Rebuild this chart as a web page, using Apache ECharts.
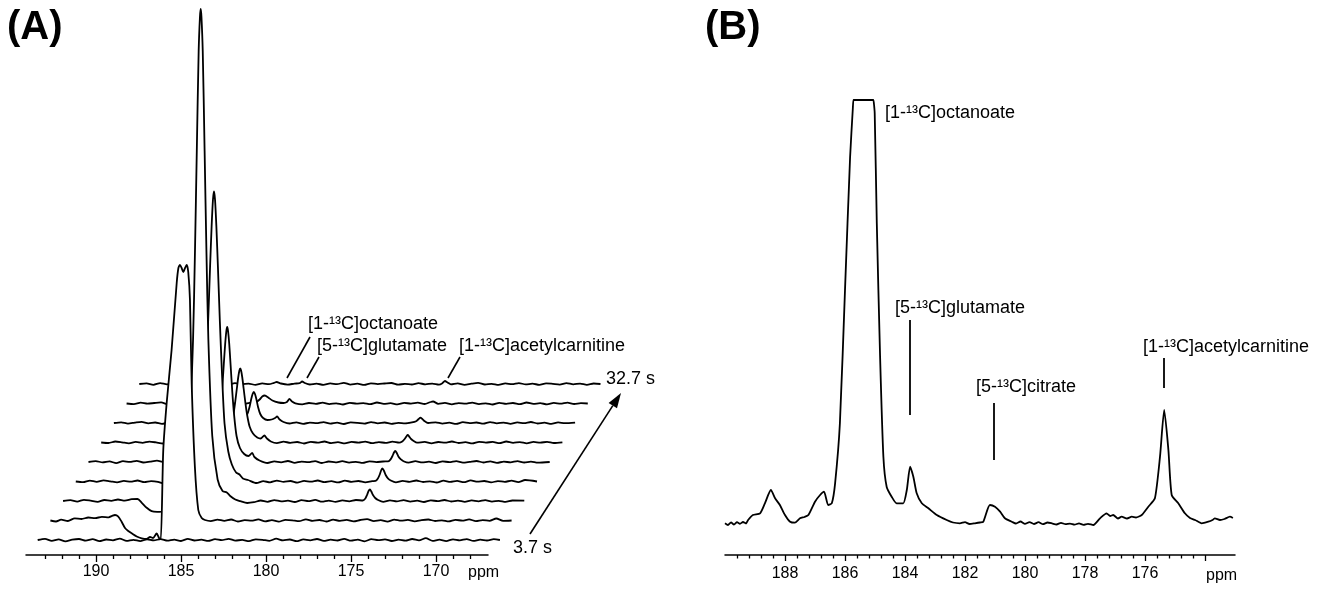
<!DOCTYPE html>
<html>
<head>
<meta charset="utf-8">
<script src="https://cdn.jsdelivr.net/npm/echarts@6/dist/echarts.min.js"></script>
<style>
  html, body { margin: 0; padding: 0; background: #fff; }
  #chart { width: 1331px; height: 592px; }
</style>
</head>
<body>
<div id="chart"></div>
<script>
// (A) stacked 13C spectra, front trace (3.7 s) first, back trace (32.7 s) last; [ppm, intensity]
const scanA0 = [[193.43,0],[193.0,1.2],[192.6,-0.8],[192.2,0.6],[191.8,-1.4],[191.4,0.3],[191.0,1],[190.6,-0.6],[190.2,0.8],[189.8,-1.2],[189.4,0.5],[189.0,-0.3],[188.6,1.4],[188.2,-0.9],[187.8,0.2],[187.4,-1.1],[187.0,0.6],[186.6,-0.4],[186.2,0.9],[185.8,-0.7],[185.4,0.4],[185.0,-1],[184.6,1.1],[184.2,-0.5],[183.8,0.3],[183.4,-0.9],[183.0,0.8],[182.6,-0.2],[182.2,1.2],[181.8,-0.6],[181.4,0.1],[181.0,-1.1],[180.6,0.7],[180.2,0.2],[179.8,-0.8],[179.4,1.3],[179.0,-0.4],[178.6,0.5],[178.2,-1.2],[177.8,0.6],[177.4,-0.3],[177.0,1],[176.6,-0.9],[176.2,0.4],[175.8,-0.5],[175.4,1.1],[175.0,-0.7],[174.6,0.3],[174.2,-1.3],[173.8,0.8],[173.4,-0.2],[173.0,0.6],[172.6,-1],[172.2,0.4],[171.8,-0.6],[171.4,1],[171.0,-0.4],[170.6,1.8],[170.2,-0.8],[169.8,0.3],[169.4,-1.1],[169.0,0.7],[168.6,-0.3],[168.2,0.9],[167.8,-0.9],[167.4,0.4],[167.0,-0.5],[166.6,0.8],[166.24,0]];
const scanA1 = [[193.43,0],[193.1,-1],[192.8,0.8],[192.4,-0.5],[192.0,2.2],[191.6,1.5],[191.2,3],[190.8,2.4],[190.4,3.6],[190.0,3.2],[189.8,4.6],[189.63,5.5],[189.45,4.2],[189.24,-1.2],[189.04,-7.5],[188.85,-10.5],[188.65,-12.8],[188.35,-16],[188.06,-17.8],[187.77,-18.5],[187.57,-16.5],[187.39,-17.5],[187.18,-13],[187.04,-17.5],[186.94,-19.5],[186.79,70.5],[186.59,117.5],[186.3,170.5],[186.0,237.5],[185.9,252.5],[185.81,255.5],[185.71,252.5],[185.61,248.5],[185.51,252.5],[185.41,255.5],[185.32,248.5],[185.22,220.5],[185.12,137.5],[184.93,53.5],[184.73,10.5],[184.53,2.5],[184.34,0.5],[184.0,-0.6],[183.6,0.9],[183.2,-0.3],[182.8,1],[182.4,-1],[182.0,0.4],[181.6,-0.2],[181.2,1.1],[180.8,-0.8],[180.4,0.3],[180.0,-1.2],[179.6,0.7],[179.2,0.2],[178.8,-0.7],[178.4,1.2],[178.0,-0.4],[177.6,0.5],[177.2,-1],[176.8,0.8],[176.4,-0.3],[176.0,0.6],[175.6,-0.9],[175.2,0.5],[174.8,1.4],[174.4,-0.6],[174.0,0.3],[173.6,-1.1],[173.2,0.9],[172.8,-0.2],[172.4,0.6],[172.0,-0.8],[171.6,0.4],[171.2,1],[170.8,-0.5],[170.4,0.2],[170.0,-0.9],[169.6,0.7],[169.2,-0.2],[168.8,1.1],[168.4,-0.6],[168.0,0.4],[167.6,-0.3],[167.2,2],[166.8,-0.4],[166.3,0]];
const scanA2 = [[193.43,0],[193.0,0.8],[192.6,-0.6],[192.2,1.2],[191.8,0.3],[191.4,-0.8],[191.0,1],[190.6,0.2],[190.2,1.5],[189.8,0.4],[189.4,1.8],[189.05,2],[188.8,-1.8],[188.51,-6.8],[188.22,-10.2],[187.9,-10.8],[187.53,-10.2],[187.2,-3],[186.975,6.5],[186.33,21.5],[186.015,65],[185.785,161.5],[185.67,251.5],[185.565,350],[185.455,450],[185.38,484],[185.335,492],[185.29,484],[185.215,450],[185.105,350],[185.0,251.5],[184.885,161.5],[184.655,65],[184.34,21.5],[184.05,10],[183.8,8.5],[183.6,5],[183.3,1.5],[183.0,-0.2],[182.6,-2],[182.2,-1.2],[181.8,0.5],[181.4,-0.8],[181.0,0.9],[180.6,-0.4],[180.2,0.3],[179.8,-1],[179.4,0.8],[179.0,-0.2],[178.6,1.1],[178.2,-0.7],[177.8,0.4],[177.4,-0.9],[177.0,0.6],[176.6,-0.3],[176.2,1],[175.8,0.5],[175.65,2.5],[175.55,6],[175.46,10],[175.38,11.5],[175.3,9.5],[175.2,6],[175.07,3],[174.9,1],[174.6,-0.8],[174.2,0.6],[173.8,-0.4],[173.4,0.9],[173.0,-0.6],[172.6,0.3],[172.2,-1],[171.8,0.7],[171.4,-0.2],[171.0,1],[170.6,-0.5],[170.2,0.4],[169.8,-0.8],[169.4,0.6],[169.0,-0.3],[168.6,0.9],[168.2,-0.6],[167.8,0.2],[167.4,-0.9],[167.0,0.5],[166.3,0.3]];
const scanA3 = [[193.43,0],[193.0,-0.7],[192.6,0.9],[192.2,-0.3],[191.8,1.1],[191.4,0.2],[191.0,-0.9],[190.6,0.6],[190.2,-0.2],[189.8,1],[189.4,-0.6],[189.0,0.4],[188.6,-0.3],[188.3,-2],[188.0,-2.5],[187.5,2],[186.8,6],[186.35,15],[186.14,30],[185.92,62],[185.76,115],[185.645,160],[185.53,215],[185.44,255],[185.36,282],[185.3,290],[185.24,282],[185.16,255],[185.07,215],[184.955,160],[184.84,112],[184.68,58],[184.46,30],[184.25,17],[184.0,9],[183.8,7],[183.6,3],[183.3,1.5],[182.8,-1.5],[182.4,0.3],[182.0,-0.8],[181.6,0.9],[181.2,-0.4],[180.8,0.5],[180.4,-1.1],[180.0,0.6],[179.6,-0.2],[179.2,1],[178.8,-0.7],[178.4,0.3],[178.0,-0.9],[177.6,0.8],[177.2,-0.3],[176.8,0.5],[176.4,-0.8],[176.0,0.4],[175.8,0.6],[175.66,3],[175.55,7],[175.46,11.5],[175.39,13],[175.31,11],[175.2,6.5],[175.07,3.2],[174.9,1],[174.6,-0.9],[174.2,0.7],[173.8,-0.3],[173.4,1],[173.0,-0.5],[172.6,0.2],[172.2,-1],[171.8,0.8],[171.4,-0.4],[171.0,0.6],[170.6,-0.7],[170.2,1.1],[169.8,-0.2],[169.4,0.5],[169.0,-0.9],[168.6,0.4],[168.2,-0.3],[167.8,0.8],[167.4,-0.6],[167.0,1.5],[166.3,0]];
const scanA4 = [[193.43,0],[193.0,0.9],[192.6,-0.4],[192.2,0.6],[191.8,-1.1],[191.4,0.8],[191.0,0.1],[190.6,1.2],[190.2,-0.5],[189.8,0.4],[189.4,1.3],[189.0,-0.2],[188.6,0.7],[188.2,-0.6],[187.8,0.3],[187.5,-1.5],[187.2,-2.5],[186.77,3],[186.27,8],[186.02,15],[185.82,28],[185.67,50],[185.57,72],[185.47,98],[185.39,118],[185.32,131],[185.27,135],[185.22,131],[185.15,118],[185.07,97],[184.97,70],[184.87,48],[184.72,26],[184.52,14],[184.27,8],[184.02,6],[183.8,9],[183.67,5],[183.37,1.5],[182.9,-1],[182.5,0.6],[182.1,-0.3],[181.7,1],[181.3,-0.8],[180.9,0.4],[180.5,-0.2],[180.1,0.9],[179.7,-1],[179.3,0.5],[178.9,-0.4],[178.5,0.8],[178.1,-0.6],[177.7,0.2],[177.3,-0.9],[176.9,0.7],[176.5,-0.1],[176.1,0.5],[175.8,0.6],[175.66,2.6],[175.55,6],[175.46,9.5],[175.39,11],[175.31,9.5],[175.2,5.5],[175.07,2.8],[174.9,0.8],[174.6,-0.7],[174.2,0.8],[173.8,-0.4],[173.4,0.3],[173.0,-1],[172.6,0.7],[172.2,-0.2],[171.8,0.9],[171.4,-0.6],[171.0,0.2],[170.6,1],[170.2,-0.5],[169.8,0.6],[169.4,-0.8],[169.0,0.3],[168.6,-0.3],[168.2,0.9],[167.8,-0.5],[167.4,0.4],[167.0,-0.7],[166.3,0]];
const scanA5 = [[193.43,0],[193.0,-0.5],[192.6,1],[192.2,0.2],[191.8,-0.8],[191.4,0.6],[191.0,-0.3],[190.6,0.9],[190.2,0.1],[189.8,-1],[189.4,0.7],[189.0,-0.2],[188.6,1.1],[188.2,-0.4],[187.8,0.5],[187.4,-0.8],[187.0,0.3],[186.7,2],[186.25,5],[186.0,9],[185.8,16],[185.65,28],[185.55,40],[185.45,54],[185.37,65],[185.3,72],[185.25,74],[185.2,72],[185.13,65],[185.05,54],[184.95,40],[184.85,28],[184.7,16],[184.5,9],[184.25,5],[184.05,4],[183.83,7],[183.68,4],[183.45,1],[183.1,-0.6],[182.7,0.8],[182.3,-0.3],[181.9,0.5],[181.5,-1],[181.1,0.7],[180.7,-0.2],[180.3,1],[179.9,-0.6],[179.5,0.3],[179.1,-0.9],[178.7,0.6],[178.3,-0.1],[177.9,0.9],[177.5,-0.7],[177.1,0.4],[176.7,-0.4],[176.3,0.8],[175.9,-0.2],[175.72,1],[175.58,3.5],[175.47,6.2],[175.4,7.5],[175.32,6.2],[175.2,3.5],[175.05,1.5],[174.85,-0.2],[174.4,0.6],[174.0,-0.8],[173.6,0.5],[173.2,-0.2],[172.8,1],[172.4,-0.5],[172.0,0.3],[171.6,-0.9],[171.2,0.7],[170.8,-0.1],[170.4,0.6],[170.0,-0.7],[169.6,1],[169.2,-0.3],[168.8,0.4],[168.4,-0.8],[168.0,0.6],[167.6,-0.2],[167.2,0.7],[166.8,-0.5],[166.3,0.2]];
const scanA6 = [[193.43,0],[193.0,0.7],[192.6,-0.6],[192.2,0.4],[191.8,1.2],[191.4,-0.3],[191.0,0.5],[190.6,-0.9],[190.2,0.8],[189.8,0.1],[189.4,-0.7],[189.0,1],[188.6,-0.2],[188.2,0.6],[187.8,-0.8],[187.4,0.4],[187.0,-0.3],[186.4,0.5],[186.0,3],[185.75,5],[185.58,9],[185.45,16],[185.35,24],[185.27,29],[185.2,31],[185.13,29],[185.05,24],[184.95,16],[184.82,9],[184.65,5],[184.4,3],[184.15,3.5],[183.95,5],[183.83,6.5],[183.68,3.5],[183.45,1],[183.1,-0.5],[182.7,0.7],[182.3,-0.8],[181.9,0.3],[181.5,-0.2],[181.1,0.9],[180.7,-0.6],[180.3,0.4],[179.9,-1],[179.5,0.6],[179.1,0.1],[178.7,-0.7],[178.3,0.9],[177.9,-0.3],[177.5,0.5],[177.1,-0.8],[176.7,0.2],[176.3,-0.4],[175.9,0.6],[175.65,1.8],[175.5,4],[175.4,5.3],[175.3,4.2],[175.15,1.8],[174.95,0],[174.5,0.7],[174.1,-0.6],[173.7,0.3],[173.3,-0.9],[172.9,0.8],[172.5,-0.1],[172.1,0.5],[171.7,-0.7],[171.3,0.9],[170.9,-0.3],[170.5,0.4],[170.1,-0.8],[169.7,0.6],[169.3,-0.2],[168.9,1],[168.5,-0.5],[168.1,0.3],[167.7,-0.9],[167.3,0.6],[166.9,-0.2],[166.3,0.4]];
const scanA7 = [[193.43,0],[193.0,-0.6],[192.6,0.8],[192.2,-0.2],[191.8,0.5],[191.4,1.1],[191.0,-0.7],[190.6,0.3],[190.2,-0.4],[189.8,0.9],[189.4,-0.1],[189.0,0.6],[188.6,-0.9],[188.2,0.4],[187.8,1],[187.4,-0.5],[187.0,0.2],[186.6,-0.8],[186.2,0.7],[185.8,1.5],[185.6,4],[185.45,7],[185.3,8],[185.1,6],[184.85,3],[184.5,1],[184.2,0.5],[184.0,1.5],[183.85,4.5],[183.7,2],[183.5,0.2],[183.1,-0.8],[182.7,0.5],[182.3,-0.3],[181.9,0.8],[181.5,-0.6],[181.1,0.2],[180.7,-1],[180.3,0.7],[179.9,-0.2],[179.5,0.4],[179.1,-0.7],[178.7,1],[178.3,-0.4],[177.9,0.3],[177.5,-0.9],[177.1,0.6],[176.7,-0.1],[176.3,0.8],[175.9,-0.5],[175.55,1.5],[175.4,2],[175.1,-0.3],[174.7,0.6],[174.3,-0.8],[173.9,0.4],[173.5,-0.2],[173.1,0.9],[172.7,-0.6],[172.3,0.2],[171.9,-1],[171.5,0.7],[171.1,-0.3],[170.7,0.5],[170.3,-0.7],[169.9,1],[169.5,-0.4],[169.1,0.3],[168.7,-0.8],[168.3,0.6],[167.9,-0.2],[167.5,0.9],[167.1,-0.5],[166.7,0.3],[166.3,0]];
const scanA8 = [[193.43,0],[193.0,0.6],[192.6,-0.8],[192.2,0.9],[191.8,-0.3],[191.4,0.4],[191.0,1.5],[190.6,-0.4],[190.2,0.2],[189.8,-0.9],[189.4,0.7],[189.0,-0.2],[188.6,0.5],[188.2,-0.7],[187.8,0.8],[187.4,-0.1],[187.0,0.4],[186.6,-0.9],[186.2,0.6],[185.8,-0.2],[185.5,1.2],[185.35,2],[185.1,0.5],[184.7,-0.6],[184.3,0.4],[184.0,0.8],[183.85,2.5],[183.7,1],[183.4,-0.5],[183.0,0.3],[182.6,-0.8],[182.2,0.6],[181.8,-0.2],[181.4,1.2],[181.0,-0.6],[180.6,0.3],[180.2,-0.9],[179.8,0.7],[179.4,-0.1],[179.0,0.5],[178.6,1],[178.2,-0.7],[177.8,0.2],[177.4,-0.5],[177.0,0.8],[176.6,-0.3],[176.2,0.4],[175.8,-0.6],[175.6,0.8],[175.45,3],[175.3,1.5],[175.1,-0.4],[174.7,0.6],[174.3,-0.8],[173.9,0.3],[173.5,1.1],[173.1,-0.5],[172.7,0.2],[172.3,-0.9],[171.9,0.6],[171.5,-0.2],[171.1,0.9],[170.7,-0.4],[170.3,0.3],[169.9,-0.8],[169.5,0.7],[169.1,0.1],[168.7,-0.6],[168.3,0.9],[167.9,-0.3],[167.5,0.4],[167.1,-0.8],[166.7,0.5],[166.3,0]];
const scansA = [scanA0, scanA1, scanA2, scanA3, scanA4, scanA5, scanA6, scanA7, scanA8];
const stackLabels = ['3.7 s', '32.7 s'];
const ticksA = [170, 175, 180, 185, 190];

// (B) single spectrum, octanoate peak clipped at the top; [ppm, intensity]
const scanB = [[190.0,-0.3],[189.9,-2],[189.8,0.5],[189.7,-1.5],[189.6,0.8],[189.5,-0.8],[189.4,1],[189.3,-0.5],[189.23,3],[189.07,8],[188.83,9.7],[188.67,19.7],[188.47,33],[188.33,24.7],[188.17,18],[188.0,8],[187.83,1.3],[187.67,0.3],[187.5,4.7],[187.35,6],[187.22,8],[187.0,21.3],[186.83,28],[186.7,31.3],[186.56,18],[186.44,19.7],[186.33,39.7],[186.17,99.7],[186.0,233],[185.83,366],[185.74,414],[185.72,423],[185.70,423],[185.05,423],[185.03,423],[185.01,410],[184.94,299.7],[184.83,166],[184.72,66],[184.61,36],[184.44,26],[184.28,19.7],[184.06,19.7],[183.94,33],[183.83,56.3],[183.72,46],[183.61,29.7],[183.44,19.7],[183.22,14.7],[182.94,8],[182.61,3],[182.4,0.5],[182.17,-0.3],[182.0,0.8],[181.85,-1],[181.67,-0.3],[181.5,0.5],[181.39,1.3],[181.17,18],[181.0,16.3],[180.83,11.3],[180.67,4.7],[180.44,1.3],[180.3,-0.5],[180.15,1.5],[180.0,-0.8],[179.85,0.9],[179.7,-1],[179.55,0.8],[179.4,-1.2],[179.25,0.5],[179.1,-0.4],[178.95,-1.5],[178.8,0.2],[178.65,-1.2],[178.5,-0.6],[178.35,-1.6],[178.2,-0.4],[178.05,-1.8],[177.9,-0.8],[177.72,-2],[177.5,4.7],[177.28,9.7],[177.16,7],[177.06,8],[176.9,4.5],[176.78,6.3],[176.6,4.5],[176.44,6.3],[176.3,5.5],[176.11,8],[175.89,16.3],[175.67,24.7],[175.5,66.3],[175.36,113],[175.22,73],[175.11,28],[174.89,19.7],[174.67,9.7],[174.5,5],[174.33,3],[174.11,-0.3],[173.89,1.3],[173.75,3],[173.67,4.7],[173.5,3],[173.35,4],[173.17,6.3],[173.07,5]];
const ticksB = [176, 178, 180, 182, 184, 186, 188];
// label marker lines in (B): ppm and the intensity span of the bar
const markersB = [
  {ppm: 183.83, from: 108, to: 203},
  {ppm: 181.03, from: 63, to: 120},
  {ppm: 175.36, from: 135, to: 165},
];

// waterfall offset between successive traces
const SHIFT_PPM = 0.747;
const LIFT = 19.5;

const FONT = '"Liberation Sans", Arial, Helvetica, sans-serif';

const minorTicksA = [];
for (let p = 168; p <= 193; p++) if (p % 5 !== 0) minorTicksA.push(p);
const majorTicksB = [174].concat(ticksB);
const minorTicksB = [];
for (let i = 436; i <= 474; i++) { // 0.4 ppm steps, 174.4 .. 189.6
  const p = Math.round(i * 4) / 10;
  if (p % 2 !== 0) minorTicksB.push(p);
}

const chart = echarts.init(document.getElementById('chart'), null, {renderer: 'canvas'});

const seriesA = scansA.map((scan, k) => ({
  type: 'line',
  xAxisIndex: 0,
  yAxisIndex: 0,
  data: scan.map(([p, v]) => [p - k * SHIFT_PPM, v + k * LIFT]),
  showSymbol: false,
  smooth: 0.25,
  lineStyle: {color: '#000', width: 1.8},
  areaStyle: {color: '#fff', opacity: 1, origin: 'start'},
  z: 10 - k,
  silent: true,
}));

const seriesB = {
  type: 'line',
  xAxisIndex: 3,
  yAxisIndex: 2,
  data: scanB,
  showSymbol: false,
  smooth: 0.2,
  lineStyle: {color: '#000', width: 1.8},
  silent: true,
  markLine: {
    silent: true,
    symbol: ['none', 'none'],
    label: {show: false},
    lineStyle: {color: '#000', width: 1.8, type: 'solid'},
    data: markersB.map(m => [{coord: [m.ppm, m.from]}, {coord: [m.ppm, m.to]}]),
  },
};

const axisBase = {
  type: 'value',
  inverse: true,
  position: 'bottom',
  splitLine: {show: false},
  z: 50,
};
const tickStyle = {color: '#000', width: 1.3};

function txt(text, x, y, font) {
  return {
    type: 'text',
    z: 100,
    style: {
      text: text, x: x, y: y,
      fill: '#000',
      font: font,
      textAlign: 'left',
      verticalAlign: 'middle',
      textVerticalAlign: 'middle',
    },
  };
}
function seg(x1, y1, x2, y2) {
  return {type: 'line', z: 100, shape: {x1, y1, x2, y2}, style: {stroke: '#000', lineWidth: 1.6}};
}
const labelFont = '18px ' + FONT;
const panelFont = 'bold 40px ' + FONT;

const option = {
  animation: false,
  backgroundColor: '#fff',
  grid: [
    {left: 36.5, top: 0, width: 566.1, height: 570},   // (A) traces
    {left: 26, top: 540, width: 462, height: 15},      // (A) ppm axis
    {left: 725, top: 98, width: 510, height: 457},     // (B)
  ],
  xAxis: [
    Object.assign({}, axisBase, {gridIndex: 0, min: 160.2, max: 193.5, show: false}),
    Object.assign({}, axisBase, {
      gridIndex: 1, min: 166.94, max: 194.12,
      axisLine: {show: true, onZero: false, lineStyle: {color: '#000', width: 1.5}},
      axisTick: {show: true, customValues: ticksA, length: 7, lineStyle: tickStyle},
      axisLabel: {customValues: ticksA, fontSize: 16, color: '#000', margin: 9, fontFamily: FONT},
    }),
    Object.assign({}, axisBase, {
      gridIndex: 1, min: 166.94, max: 194.12,
      axisLine: {show: false, onZero: false},
      axisTick: {show: true, customValues: minorTicksA, length: 4, lineStyle: tickStyle},
      axisLabel: {show: false},
    }),
    Object.assign({}, axisBase, {
      gridIndex: 2, min: 173, max: 190,
      axisLine: {show: true, onZero: false, lineStyle: {color: '#000', width: 1.5}},
      axisTick: {show: true, customValues: majorTicksB, length: 6, lineStyle: tickStyle},
      axisLabel: {customValues: ticksB, fontSize: 16, color: '#000', margin: 11, fontFamily: FONT},
    }),
    Object.assign({}, axisBase, {
      gridIndex: 2, min: 173, max: 190,
      axisLine: {show: false, onZero: false},
      axisTick: {show: true, customValues: minorTicksB, length: 3.5, lineStyle: tickStyle},
      axisLabel: {show: false},
    }),
  ],
  yAxis: [
    {type: 'value', gridIndex: 0, min: -30, max: 540, show: false},
    {type: 'value', gridIndex: 1, min: 0, max: 1, show: false},
    {type: 'value', gridIndex: 2, min: -32, max: 425, show: false},
  ],
  series: seriesA.concat([seriesB]),
  graphic: [
    txt('(A)', 7, 28, panelFont),
    txt('(B)', 705, 28, panelFont),
    // (A) annotations
    txt('[1-\u00b9\u00b3C]octanoate', 308, 324, labelFont),
    txt('[5-\u00b9\u00b3C]glutamate', 317, 346, labelFont),
    txt('[1-\u00b9\u00b3C]acetylcarnitine', 459, 346, labelFont),
    seg(287, 378, 310, 337),
    seg(307, 378, 319, 357),
    seg(448, 378, 460, 357),
    txt(stackLabels[1], 606, 379, labelFont),
    txt(stackLabels[0], 513, 548, labelFont),
    seg(530, 534, 612.8, 405.6),
    {type: 'polygon', z: 100, shape: {points: [[621, 393], [617.0, 408.3], [608.6, 402.9]]}, style: {fill: '#000'}},
    txt('ppm', 468, 573, '16px ' + FONT),
    // (B) annotations
    txt('[1-\u00b9\u00b3C]octanoate', 885, 113, labelFont),
    txt('[5-\u00b9\u00b3C]glutamate', 895, 308, labelFont),
    txt('[5-\u00b9\u00b3C]citrate', 976, 387, labelFont),
    txt('[1-\u00b9\u00b3C]acetylcarnitine', 1143, 347, labelFont),
    txt('ppm', 1206, 576, '16px ' + FONT),
  ],
};

chart.setOption(option);
</script>
</body>
</html>
